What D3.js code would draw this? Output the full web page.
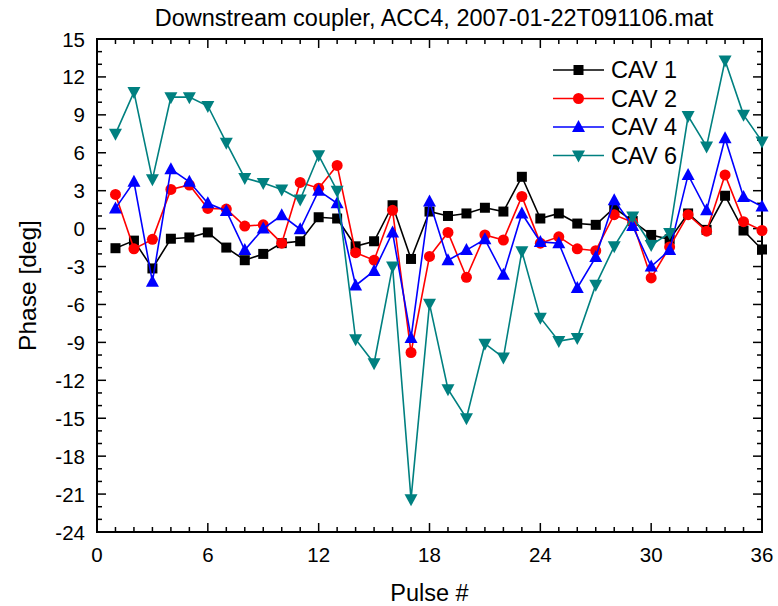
<!DOCTYPE html>
<html>
<head>
<meta charset="utf-8">
<script src="https://cdn.jsdelivr.net/npm/d3@7"></script>
<style>
  html, body { margin: 0; padding: 0; background: #fff; }
  svg { display: block; font-family: "Liberation Sans", Arial, sans-serif; }
</style>
</head>
<body>
<svg id="chart" width="778" height="606"></svg>
<script>
// Pulse numbers 1..36
const pulses = [1,2,3,4,5,6,7,8,9,10,11,12,13,14,15,16,17,18,19,20,21,22,23,24,25,26,27,28,29,30,31,32,33,34,35,36];

// Phase [deg] per cavity
const cav1 = [-1.55,-0.95,-3.15,-0.8,-0.7,-0.3,-1.5,-2.5,-2.0,-1.15,-1.0,0.9,0.8,-1.4,-1.0,1.85,-2.4,1.35,1.0,1.2,1.65,1.35,4.1,0.8,1.2,0.4,0.3,1.65,0.6,-0.5,-0.85,1.2,-0.1,2.6,-0.15,-1.65];
const cav2 = [2.7,-1.6,-0.85,3.1,3.45,1.6,1.55,0.2,0.3,-1.15,3.65,3.2,5.0,-1.9,-2.5,1.45,-9.8,-2.2,-0.3,-3.85,-0.5,-0.9,2.55,-1.15,-0.65,-1.6,-1.75,1.1,0.5,-3.9,-1.45,1.1,-0.2,4.25,0.55,-0.15];
const cav4 = [1.6,3.7,-4.2,4.7,3.7,2.0,1.4,-1.7,0.0,1.05,-0.05,3.0,2.0,-4.5,-3.35,-0.3,-8.65,2.15,-2.5,-1.7,-0.85,-3.65,1.2,-1.05,-1.15,-4.7,-2.25,2.25,0.2,-3.0,-1.7,4.25,1.45,7.15,2.5,1.75];
const cav6 = [7.5,10.8,3.9,10.4,10.4,9.7,6.8,4.0,3.6,3.1,2.3,5.8,3.0,-8.75,-10.65,-3.0,-21.4,-5.95,-12.7,-15.0,-9.1,-10.2,-1.8,-7.05,-8.9,-8.65,-4.45,-1.4,0.95,-1.3,-0.35,8.9,6.5,13.3,9.0,6.9];

const seriesNames = ["CAV 1", "CAV 2", "CAV 4", "CAV 6"];
const seriesValues = [cav1, cav2, cav4, cav6];
const seriesColors = ["#000000", "#ff0000", "#0000ff", "#008080"];
const seriesSymbols = ["square", "circle", "triangleUp", "triangleDown"];

const xTicks = [0, 6, 12, 18, 24, 30, 36];
const yTicks = [15, 12, 9, 6, 3, 0, -3, -6, -9, -12, -15, -18, -21, -24];

const titleText = "Downstream coupler, ACC4, 2007-01-22T091106.mat";
const xLabel = "Pulse #";
const yLabel = "Phase [deg]";

const svg = d3.select("#chart");
const m = { left: 97, right: 762, top: 39, bottom: 532 };

const x = d3.scaleLinear().domain([0, 36]).range([m.left, m.right]);
const y = d3.scaleLinear().domain([-24, 15]).range([m.bottom, m.top]);

// Title
svg.append("text")
  .attr("x", 434).attr("y", 26)
  .attr("text-anchor", "middle")
  .attr("font-size", 23.5)
  .text(titleText);

// Tick marks (inward on all four sides)
const g = svg.append("g").attr("stroke", "#000").attr("stroke-width", 1.5);
d3.range(0, 37, 1).forEach(v => {
  const major = v % 6 === 0;
  const len = major ? 9 : 5;
  g.append("line").attr("x1", x(v)).attr("x2", x(v)).attr("y1", m.bottom).attr("y2", m.bottom - len);
  g.append("line").attr("x1", x(v)).attr("x2", x(v)).attr("y1", m.top).attr("y2", m.top + len);
});
d3.range(-24, 16, 1).forEach(v => {
  const major = v % 3 === 0;
  const len = major ? 9 : 5;
  g.append("line").attr("y1", y(v)).attr("y2", y(v)).attr("x1", m.left).attr("x2", m.left + len);
  g.append("line").attr("y1", y(v)).attr("y2", y(v)).attr("x1", m.right).attr("x2", m.right - len);
});

// Frame
svg.append("rect")
  .attr("x", m.left).attr("y", m.top)
  .attr("width", m.right - m.left).attr("height", m.bottom - m.top)
  .attr("fill", "none").attr("stroke", "#000").attr("stroke-width", 2);

// Tick labels
svg.append("g").selectAll("text").data(xTicks).join("text")
  .attr("x", d => x(d)).attr("y", m.bottom + 30)
  .attr("text-anchor", "middle").attr("font-size", 20.5)
  .text(d => d);
svg.append("g").selectAll("text").data(yTicks).join("text")
  .attr("x", m.left - 12).attr("y", d => y(d) + 7.5)
  .attr("text-anchor", "end").attr("font-size", 20.5)
  .text(d => d);

// Axis titles
svg.append("text")
  .attr("x", (m.left + m.right) / 2).attr("y", 601)
  .attr("text-anchor", "middle").attr("font-size", 23.5)
  .text(xLabel);
svg.append("text")
  .attr("transform", `translate(36,${(m.top + m.bottom) / 2}) rotate(-90)`)
  .attr("text-anchor", "middle").attr("font-size", 24.5)
  .text(yLabel);

// Marker drawing
function marker(sel, type, color) {
  if (type === "square") {
    sel.append("rect").attr("x", -5).attr("y", -5).attr("width", 10).attr("height", 10).attr("fill", color);
  } else if (type === "circle") {
    sel.append("circle").attr("r", 5.5).attr("fill", color);
  } else if (type === "triangleUp") {
    sel.append("path").attr("d", "M0,-7L6.5,5L-6.5,5Z").attr("fill", color);
  } else {
    sel.append("path").attr("d", "M0,7L6.5,-5L-6.5,-5Z").attr("fill", color);
  }
}

const line = d3.line().x((d, i) => x(pulses[i])).y(d => y(d));

seriesValues.forEach((vals, s) => {
  const grp = svg.append("g");
  grp.append("path").datum(vals)
    .attr("d", line).attr("fill", "none")
    .attr("stroke", seriesColors[s]).attr("stroke-width", 1.6);
  vals.forEach((v, i) => {
    const mk = grp.append("g").attr("transform", `translate(${x(pulses[i])},${y(v)})`);
    marker(mk, seriesSymbols[s], seriesColors[s]);
  });
});

// Legend
const leg = svg.append("g");
seriesNames.forEach((name, s) => {
  const cy = 70 + s * 28.5;
  leg.append("line").attr("x1", 553).attr("x2", 604).attr("y1", cy).attr("y2", cy)
    .attr("stroke", seriesColors[s]).attr("stroke-width", 1.6);
  const mk = leg.append("g").attr("transform", `translate(578.5,${cy})`);
  marker(mk, seriesSymbols[s], seriesColors[s]);
  leg.append("text").attr("x", 611).attr("y", cy + 8).attr("font-size", 23.5).text(name);
});
</script>
</body>
</html>
